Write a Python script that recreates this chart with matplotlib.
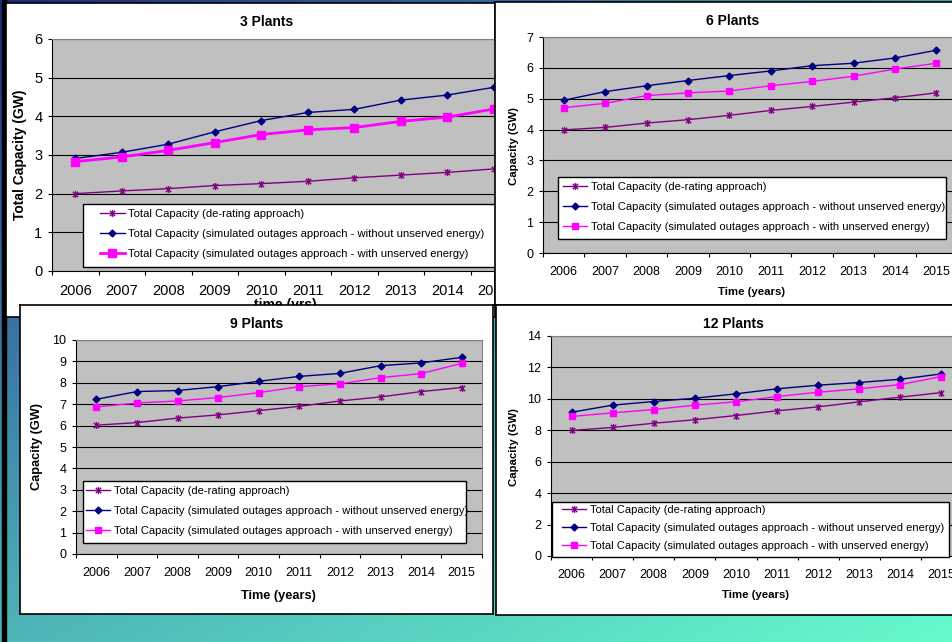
import numpy as np
import matplotlib
matplotlib.use('Agg')
import matplotlib.pyplot as plt
from matplotlib.colors import LinearSegmentedColormap
from matplotlib.path import Path
from matplotlib.patches import Rectangle

plt.rcParams['font.family'] = ['Liberation Sans', 'DejaVu Sans']

W, H = 952, 642

years = ['2006', '2007', '2008', '2009', '2010', '2011', '2012', '2013', '2014', '2015']

lbl_derate = 'Total Capacity (de-rating approach)'
lbl_without = 'Total Capacity (simulated outages approach - without unserved energy)'
lbl_with = 'Total Capacity (simulated outages approach - with unserved energy)'

# capacity in GW, one list per approach and plant count
derate_3 = [2.00, 2.07, 2.13, 2.21, 2.26, 2.32, 2.41, 2.48, 2.55, 2.64]
without_3 = [2.91, 3.07, 3.28, 3.60, 3.89, 4.10, 4.18, 4.42, 4.55, 4.75]
with_3 = [2.83, 2.95, 3.12, 3.32, 3.53, 3.65, 3.71, 3.87, 3.98, 4.19]

derate_6 = [3.99, 4.07, 4.21, 4.32, 4.46, 4.62, 4.75, 4.89, 5.03, 5.19]
without_6 = [4.95, 5.23, 5.42, 5.59, 5.75, 5.90, 6.07, 6.15, 6.32, 6.57]
with_6 = [4.71, 4.85, 5.10, 5.19, 5.25, 5.42, 5.56, 5.73, 5.96, 6.15]

derate_9 = [6.02, 6.14, 6.35, 6.50, 6.70, 6.90, 7.15, 7.34, 7.59, 7.78]
without_9 = [7.23, 7.59, 7.64, 7.82, 8.07, 8.30, 8.44, 8.80, 8.93, 9.19]
with_9 = [6.87, 7.06, 7.15, 7.31, 7.54, 7.82, 7.95, 8.24, 8.43, 8.91]

derate_12 = [7.99, 8.18, 8.45, 8.67, 8.94, 9.24, 9.49, 9.81, 10.11, 10.40]
without_12 = [9.15, 9.60, 9.83, 10.04, 10.32, 10.64, 10.87, 11.04, 11.25, 11.59]
with_12 = [8.88, 9.11, 9.32, 9.60, 9.81, 10.15, 10.42, 10.64, 10.91, 11.42]

# excel style asterisk marker: an x with a vertical bar
star = Path([(-1, -1), (1, 1), (-1, 1), (1, -1), (0, -1.3), (0, 1.3)],
            [Path.MOVETO, Path.LINETO] * 3)


def rect(l, t, r, b):
    return [l / W, 1 - b / H, (r - l) / W, (b - t) / H]


def fxy(x, y):
    return x / W, 1 - y / H


fig = plt.figure(figsize=(W / 100, H / 100), dpi=100)

# slide background
bg = fig.add_axes([0, 0, 1, 1], zorder=-10)
cmap = LinearSegmentedColormap.from_list('slide', [
    (0.0, '#1c2a7e'), (0.33, '#3d7fa8'), (0.55, '#4db6b8'), (1.0, '#66fbcc')])
gx, gy = np.meshgrid(np.linspace(0, 1, 240), np.linspace(0, 1, 160))
bg.imshow(0.45 * gx + 0.55 * gy, cmap=cmap, vmin=0, vmax=1,
          extent=[0, 1, 1, 0], aspect='auto', interpolation='bilinear')
bg.fill_between([0.002, 0.0065], 0, 1, color='black')
bg.set_xlim(0, 1)
bg.set_ylim(1, 0)
bg.axis('off')


def panel(z, box, plot, title, title_xy, ylabel, ylabel_xy, xlabel, xlabel_xy,
          derate, without, withue, ymax, ystep, leg_box, leg_xy, tick_fs,
          lab_fs, leg_fs, leg_space, pink_lw, pink_ms):
    bx = fig.add_axes(rect(*box), zorder=z)
    bx.set_facecolor('white')
    bx.set_xticks([])
    bx.set_yticks([])
    for s in bx.spines.values():
        s.set_linewidth(1.2)
        s.set_color('black')

    bx.text(*fxy(*title_xy), title, transform=fig.transFigure, ha='center',
            va='center', fontsize=10, fontweight='bold')
    bx.text(*fxy(*ylabel_xy), ylabel, transform=fig.transFigure, ha='center',
            va='center', rotation=90, fontsize=lab_fs, fontweight='bold')
    bx.text(*fxy(*xlabel_xy), xlabel, transform=fig.transFigure, ha='center',
            va='center', fontsize=lab_fs, fontweight='bold')

    ax = fig.add_axes(rect(*plot), zorder=z + 0.5)
    ax.set_facecolor('#c0c0c0')
    x = np.arange(len(years))
    ax.plot(x, derate, color='#800080', lw=1, marker=star, ms=5,
            mec='#800080', mew=1, label=lbl_derate)
    ax.plot(x, without, color='#000080', lw=1, marker='D', ms=3.5,
            label=lbl_without)
    ax.plot(x, withue, color='#ff00ff', lw=pink_lw, marker='s', ms=pink_ms,
            label=lbl_with)

    ax.set_xlim(-0.5, len(years) - 0.5)
    ax.set_ylim(0, ymax)
    ax.set_yticks(np.arange(0, ymax + 0.01, ystep))
    ax.yaxis.grid(True, color='black', lw=0.8)
    ax.set_axisbelow(True)
    ax.set_xticks(np.arange(-0.5, len(years), 1))
    ax.set_xticklabels([])
    ax.set_xticks(x, minor=True)
    ax.set_xticklabels(years, minor=True)
    ax.tick_params(axis='both', which='major', length=3, width=0.8,
                   direction='out', labelsize=tick_fs, pad=4)
    ax.tick_params(axis='x', which='minor', length=0, labelsize=tick_fs,
                   pad=9.5)
    ax.spines['left'].set_color('black')
    ax.spines['bottom'].set_color('black')
    ax.spines['top'].set_color('#808080')
    ax.spines['right'].set_color('#808080')

    # legend box drawn on its own, entries placed inside it
    l, t, r, b = leg_box
    ax.add_patch(Rectangle(fxy(l, b), (r - l) / W, (b - t) / H,
                           transform=fig.transFigure, facecolor='white',
                           edgecolor='black', lw=1, clip_on=False, zorder=4.5))
    ax.legend(loc='upper left', bbox_to_anchor=fxy(*leg_xy),
              bbox_transform=fig.transFigure, borderaxespad=0, borderpad=0,
              fontsize=leg_fs, frameon=False, handlelength=2.2,
              handletextpad=0.3, labelspacing=leg_space)
    return ax


panel(1, (6, 3, 495, 317), (52, 39, 517, 271), '3 Plants', (267, 22),
      'Total Capacity (GW)', (20, 155), 'time (yrs)', (285, 305),
      derate_3, without_3, with_3, 6, 1, (83, 204, 520, 267), (100, 209),
      10.5, 10, 8.1, 0.89, 2, 6.3)

panel(2, (20, 305, 493, 614), (76, 340, 482, 554), '9 Plants', (257, 324),
      'Capacity (GW)', (37, 447), 'Time (years)', (278, 596),
      derate_9, without_9, with_9, 10, 1, (83, 481, 466, 543), (86, 486),
      9, 9.2, 8, 0.89, 1, 4.2)

panel(3, (495, 2, 960, 305), (543, 37, 957, 253), '6 Plants', (733, 21),
      'Capacity (GW)', (514, 146), 'Time (years)', (752, 292),
      derate_6, without_6, with_6, 7, 1, (558, 177, 946, 239), (563, 182),
      9, 8.2, 8, 0.89, 1, 4.2)

panel(4, (496, 305, 960, 615), (551, 336, 962, 556), '12 Plants', (733, 324),
      'Capacity (GW)', (514, 447), 'Time (years)', (756, 595),
      derate_12, without_12, with_12, 14, 2, (552, 502, 949, 557), (562, 505),
      9, 8.2, 8, 0.71, 1, 4.2)

fig.savefig('out.png', dpi=100)
